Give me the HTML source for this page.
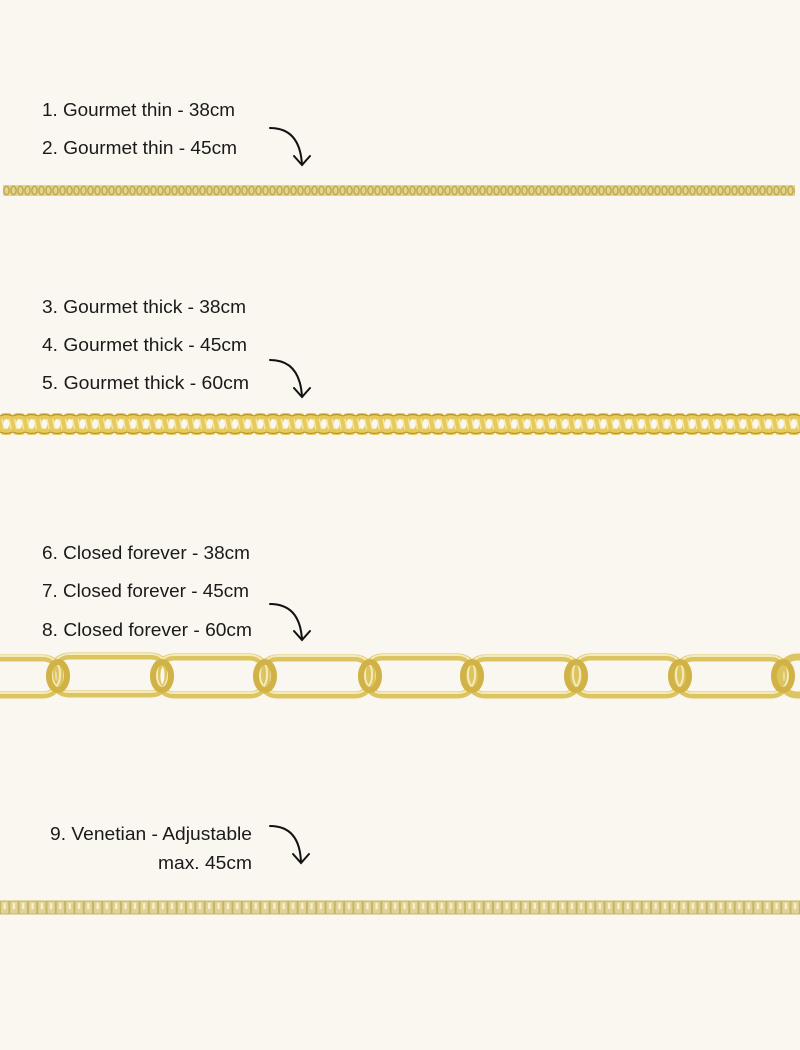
<!DOCTYPE html>
<html><head><meta charset="utf-8"><style>
html,body{margin:0;padding:0;background:#faf6f0;}
svg{display:block}
text{font-family:"Liberation Sans",sans-serif;font-size:18px;fill:#1a1a1a;}
</style></head><body>
<svg width="800" height="1050" viewBox="0 0 800 1050" xmlns="http://www.w3.org/2000/svg">
<defs>
<pattern id="thin" x="3" y="184" width="7" height="13" patternUnits="userSpaceOnUse">
<rect x="0" y="1" width="7" height="11" fill="#e2d48c"/>
<ellipse cx="3.5" cy="6.5" rx="2.6" ry="4.2" fill="none" stroke="#bfa94f" stroke-width="1.4"/>
</pattern>
<pattern id="thick" x="0" y="411" width="12.7" height="26" patternUnits="userSpaceOnUse">
<rect x="0" y="2" width="12.7" height="22" rx="4" fill="#e6cb5c"/>
<ellipse cx="6.35" cy="13" rx="3" ry="5" fill="#faf6f0"/>
<path d="M0 5 Q6 2 12.7 5 M0 21 Q6 24 12.7 21" stroke="#b8952a" stroke-width="1.2" fill="none"/>
<path d="M2 8 L4 18 M9 8 L11 18" stroke="#f7ecb8" stroke-width="1.2"/>
</pattern>
<pattern id="ven" x="0" y="899" width="9.3" height="17" patternUnits="userSpaceOnUse">
<rect x="0.5" y="2" width="8.3" height="13" fill="#e0d394" stroke="#c6b567" stroke-width="1"/>
<rect x="3.5" y="4" width="2.3" height="6" fill="#f7f0d4"/>
</pattern>
</defs>
<g lengthAdjust="spacingAndGlyphs">
<text x="42" y="116" textLength="193" lengthAdjust="spacingAndGlyphs">1.  Gourmet thin - 38cm</text>
<text x="42" y="154" textLength="195" lengthAdjust="spacingAndGlyphs">2. Gourmet thin - 45cm</text>
<text x="42" y="313" textLength="204" lengthAdjust="spacingAndGlyphs">3. Gourmet thick - 38cm</text>
<text x="42" y="351" textLength="205" lengthAdjust="spacingAndGlyphs">4. Gourmet thick - 45cm</text>
<text x="42" y="389" textLength="207" lengthAdjust="spacingAndGlyphs">5. Gourmet thick - 60cm</text>
<text x="42" y="559" textLength="208" lengthAdjust="spacingAndGlyphs">6. Closed forever - 38cm</text>
<text x="42" y="597" textLength="207" lengthAdjust="spacingAndGlyphs">7. Closed forever - 45cm</text>
<text x="42" y="636" textLength="210" lengthAdjust="spacingAndGlyphs">8. Closed forever - 60cm</text>
<text x="50" y="840" textLength="202" lengthAdjust="spacingAndGlyphs">9. Venetian - Adjustable</text>
<text x="158" y="869" textLength="94" lengthAdjust="spacingAndGlyphs">max. 45cm</text>
</g>
<g fill="none" stroke="#111" stroke-width="2" stroke-linecap="round">
<path d="M270 128 Q300 128 302 165 M294 156 L302 165 L310 156"/>
<path d="M270 360 Q300 360 302 397 M294 388 L302 397 L310 388"/>
<path d="M270 604 Q300 604 302 640 M294 631 L302 640 L310 631"/>
<path d="M270 826 Q300 826 301 863 M293 854 L301 863 L309 854"/>
</g>
<rect x="3" y="184" width="792" height="13" fill="url(#thin)"/>
<rect x="0" y="411" width="800" height="26" fill="url(#thick)"/>
<rect x="0" y="899" width="800" height="17" fill="url(#ven)"/>
<g fill="none" stroke="#dcc460" stroke-width="7">
<rect x="-50" y="658" width="110" height="37" rx="17"/>
<rect x="52" y="656" width="116" height="38" rx="17"/>
<rect x="157" y="657" width="110" height="38" rx="17"/>
<rect x="260" y="658" width="112" height="37" rx="17"/>
<rect x="365" y="657" width="110" height="38" rx="17"/>
<rect x="468" y="658" width="112" height="37" rx="17"/>
<rect x="573" y="657" width="110" height="38" rx="17"/>
<rect x="676" y="658" width="112" height="37" rx="17"/>
<rect x="780" y="657" width="60" height="38" rx="17"/>
</g>
<g fill="none" stroke="#f5ebb8" stroke-width="2">
<rect x="-50" y="656" width="110" height="37" rx="17"/>
<rect x="52" y="654" width="116" height="38" rx="17"/>
<rect x="157" y="655" width="110" height="38" rx="17"/>
<rect x="260" y="656" width="112" height="37" rx="17"/>
<rect x="365" y="655" width="110" height="38" rx="17"/>
<rect x="468" y="656" width="112" height="37" rx="17"/>
<rect x="573" y="655" width="110" height="38" rx="17"/>
<rect x="676" y="656" width="112" height="37" rx="17"/>
</g>
<g fill="none" stroke="#d0b246" stroke-width="6">
<ellipse cx="58" cy="676" rx="9" ry="14"/>
<ellipse cx="162" cy="676" rx="9" ry="14"/>
<ellipse cx="265" cy="676" rx="9" ry="14"/>
<ellipse cx="370" cy="676" rx="9" ry="14"/>
<ellipse cx="472" cy="676" rx="9" ry="14"/>
<ellipse cx="576" cy="676" rx="9" ry="14"/>
<ellipse cx="680" cy="676" rx="9" ry="14"/>
<ellipse cx="783" cy="676" rx="9" ry="14"/>
</g>
</svg>
</body></html>
